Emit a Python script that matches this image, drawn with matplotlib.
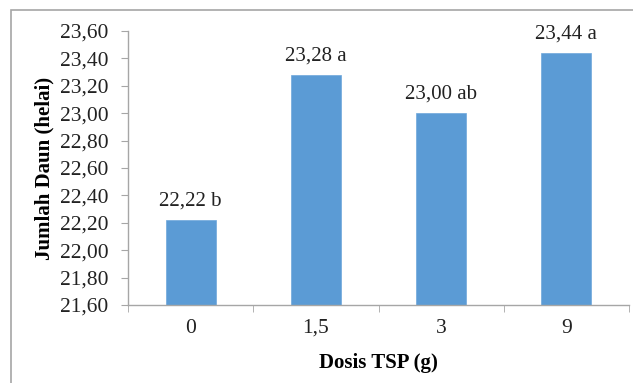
import matplotlib
matplotlib.use('Agg')
import matplotlib.pyplot as plt
from matplotlib.patches import Rectangle

# Data
dosis = ['0', '1,5', '3', '9']
jumlah_daun = [22.22, 23.28, 23.00, 23.44]
notasi = ['b', 'a', 'ab', 'a']
y_ticks = [21.6, 21.8, 22.0, 22.2, 22.4, 22.6, 22.8, 23.0, 23.2, 23.4, 23.6]

plt.rcParams['font.family'] = ['Liberation Serif', 'DejaVu Serif']

fig = plt.figure(figsize=(6.33, 3.83), dpi=100)

# Outer frame (only top and left visible in the original)
fig.patches.append(Rectangle((11 / 633, -0.05), 1.2, 373 / 383 + 0.05,
                             transform=fig.transFigure, fill=False,
                             edgecolor='#A6A6A6', linewidth=1.2))

ax = fig.add_axes([128 / 633, 78 / 383, 501 / 633, 274 / 383])

x = list(range(len(dosis)))
ax.bar(x, [v - y_ticks[0] for v in jumlah_daun], bottom=y_ticks[0],
       width=0.4, color='#5B9BD5', edgecolor='#6FA8DC', linewidth=0.5)

for xi, v, n in zip(x, jumlah_daun, notasi):
    label = f"{v:.2f}".replace('.', ',') + ' ' + n
    ax.annotate(label, (xi, v), xytext=(0, 7), textcoords='offset points',
                ha='center', va='bottom', fontsize=15, color='#222222')

ax.set_xlim(-0.5, len(dosis) - 0.5)
ax.set_ylim(y_ticks[0], y_ticks[-1])
ax.set_yticks(y_ticks)
ax.set_yticklabels([f"{t:.2f}".replace('.', ',') for t in y_ticks],
                   fontsize=15.5, color='#222222')
ax.set_xticks(x)
ax.set_xticklabels(dosis, fontsize=15.5, color='#222222')
ax.set_xticks([i - 0.5 for i in range(len(dosis) + 1)], minor=True)

ax.tick_params(axis='x', which='major', length=0, pad=10)
ax.tick_params(axis='x', which='minor', length=5, color='#A6A6A6', direction='out')
ax.tick_params(axis='y', length=5, color='#A6A6A6', direction='out', pad=9)

for s in ['top', 'right']:
    ax.spines[s].set_visible(False)
for s in ['left', 'bottom']:
    ax.spines[s].set_color('#A6A6A6')
    ax.spines[s].set_linewidth(1.0)

ax.set_xlabel('Dosis TSP (g)', fontsize=15, fontweight='bold', labelpad=11)
ax.set_ylabel('Jumlah Daun (helai)', fontsize=15, fontweight='bold', labelpad=4)

fig.savefig('out.png', dpi=100)
